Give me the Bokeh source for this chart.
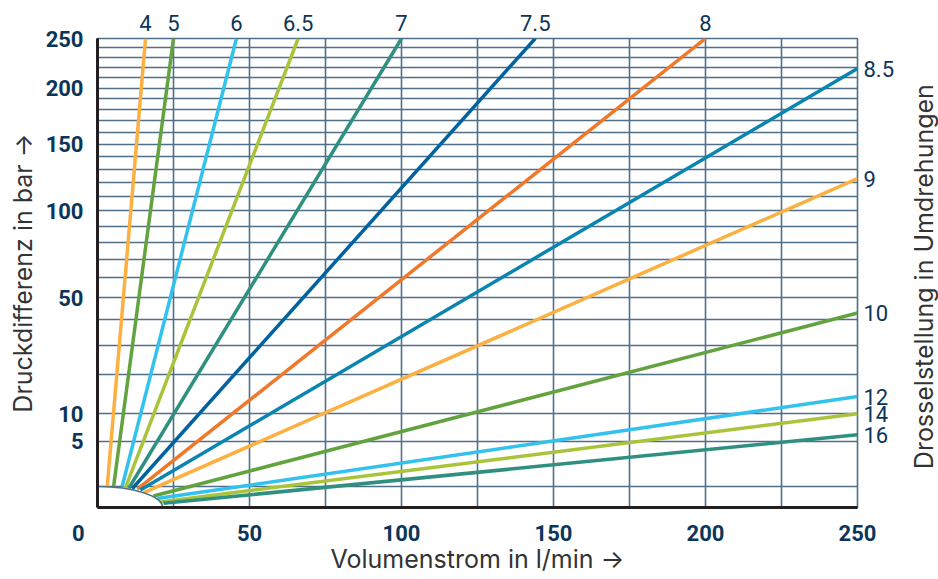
import math
from bokeh.plotting import figure
from bokeh.layouts import row
from bokeh.models import (Range1d, FixedTicker, CustomJSTickFormatter, LinearAxis)
from bokeh.core.properties import value
from bokeh.embed import file_html
from bokeh.resources import INLINE

# ---------------- data ----------------
settings = ["4", "5", "6", "6.5", "7", "7.5", "8", "8.5", "9", "10", "12", "14", "16"]
q_start = [3.2, 5.3, 8.1, 9.2, 10.3, 11.4, 13.1, 14.1, 15.2, 18.4, 19.6, 20.7, 21.7]
p_start = [0.5, 0.5, 0.5, 0.45, 0.42, 0.40, 0.38, 0.35, 0.25, 0.15, 0.09, 0.035, 0.02]
q_end = [15.8, 25, 45.7, 66, 100, 144, 200, 250, 250, 250, 250, 250, 250]
p_end = [250, 250, 250, 250, 250, 250, 250, 219, 123, 43, 14, 10, 6]
colors = ["#fbb040", "#63a33e", "#33c1ee", "#a9c43a", "#2f9080", "#0063a0", "#f0782a",
          "#0a85b0", "#fbb040", "#63a33e", "#33c1ee", "#a9c43a", "#2f9080"]

x_grid = [0, 25, 50, 75, 100, 125, 150, 175, 200, 225, 250]
x_labels = [0, 50, 100, 150, 200, 250]
y_grid = [0.5, 5, 10, 20, 30, 40, 50, 60, 70, 80, 90, 100, 110, 120, 130, 140, 150,
          160, 170, 180, 190, 200, 210, 220, 230, 240, 250]
y_labels = [5, 10, 50, 100, 150, 200, 250]
arc_q = 21.4   # throttle arc reaches the flow axis here
arc_p = 0.5    # and the pressure axis here

x_title = "Volumenstrom in l/min \u2192"
y_title = "Druckdifferenz in bar \u2192"
right_title = "Drosselstellung in Umdrehungen"

# ---------------- styles ----------------
GRID = "#4f6e87"
NAVY = "#0c355a"
TXT = "#333333"
NUM_FONT = "Roboto"
TITLE_FONT = "Inter"
TITLE_SIZE = "25px"

MAIN_W, SIDE_W, H = 900, 38, 579

p = figure(width=MAIN_W, height=H, output_backend="svg", toolbar_location=None,
           x_range=Range1d(0, 250), y_range=Range1d(0, math.sqrt(250)),
           min_border_left=97, min_border_right=MAIN_W - 857, min_border_top=38,
           min_border_bottom=72)
p.background_fill_color = "white"
p.border_fill_color = "white"
p.outline_line_color = GRID
p.outline_line_width = 1.6

p.xgrid.ticker = FixedTicker(ticks=x_grid)
p.ygrid.ticker = FixedTicker(ticks=[math.sqrt(v) for v in y_grid])
for g in (p.xgrid, p.ygrid):
    g.grid_line_color = GRID
    g.grid_line_width = 1.6

# bottom axis ("0" is shifted left, sitting at the corner as in the original)
p.xaxis.ticker = FixedTicker(ticks=x_labels)
p.xaxis.formatter = CustomJSTickFormatter(
    code="return tick == 0 ? '0\\u00a0\\u00a0\\u00a0\\u00a0\\u00a0\\u00a0\\u00a0' : tick.toString()")
p.yaxis.ticker = FixedTicker(ticks=[math.sqrt(v) for v in y_labels])
p.yaxis.formatter = CustomJSTickFormatter(code="return Math.round(tick*tick).toString()")
for ax in (p.xaxis, p.yaxis):
    ax.axis_line_color = "#231f20"
    ax.axis_line_width = 3
    ax.major_tick_line_color = None
    ax.minor_tick_line_color = None
    ax.major_tick_out = 0
    ax.minor_tick_out = 0
    ax.major_label_text_font = NUM_FONT
    ax.major_label_text_font_style = "bold"
    ax.major_label_text_font_size = "22px"
    ax.major_label_text_color = NAVY
    ax.axis_label_text_font = TITLE_FONT
    ax.axis_label_text_font_style = "normal"
    ax.axis_label_text_font_size = TITLE_SIZE
    ax.axis_label_text_color = TXT
p.yaxis.major_label_standoff = 14
p.xaxis.major_label_standoff = 13
p.yaxis.axis_label = y_title
p.yaxis.axis_label_standoff = 5
p.xaxis.axis_label = x_title
p.xaxis.axis_label_standoff = -5

# throttle lines
for qs, ps, qe, pe, c in zip(q_start, p_start, q_end, p_end, colors):
    p.line([qs, qe], [math.sqrt(ps), math.sqrt(pe)], line_color=c, line_width=3.5)

# arc near origin
p.ellipse(x=[0], y=[0], width=[2 * arc_q], height=[2 * math.sqrt(arc_p)],
          fill_color="white", line_color=GRID, line_width=1.6)

# line labels: top edge and right edge, as axes
top_idx = [i for i, v in enumerate(p_end) if v >= 250]
right_idx = [i for i, v in enumerate(p_end) if v < 250]
near_code = ("let b = 0; for (let i = 0; i < xs.length; i++) {"
             " if (Math.abs(xs[i] - tick) < Math.abs(xs[b] - tick)) b = i; }"
             " return labs[b];")
top_axis = LinearAxis(
    ticker=FixedTicker(ticks=[q_end[i] for i in top_idx]),
    formatter=CustomJSTickFormatter(args=dict(xs=[q_end[i] for i in top_idx],
                                              labs=[settings[i] for i in top_idx]),
                                    code=near_code))
right_axis = LinearAxis(
    ticker=FixedTicker(ticks=[math.sqrt(p_end[i]) for i in right_idx]),
    formatter=CustomJSTickFormatter(args=dict(xs=[math.sqrt(p_end[i]) for i in right_idx],
                                              labs=[settings[i] for i in right_idx]),
                                    code=near_code))
for ax in (top_axis, right_axis):
    ax.axis_line_color = None
    ax.major_tick_line_color = None
    ax.minor_tick_line_color = None
    ax.major_tick_out = 0
    ax.minor_tick_out = 0
    ax.major_label_text_font = NUM_FONT
    ax.major_label_text_font_size = "22px"
    ax.major_label_text_color = NAVY
top_axis.major_label_standoff = 8
right_axis.major_label_standoff = 6
p.add_layout(top_axis, "above")
p.add_layout(right_axis, "right")

# right-hand title, in a narrow strip next to the chart (reads bottom to top)
side = figure(width=SIDE_W, height=H, output_backend="svg", toolbar_location=None,
              x_range=Range1d(0, SIDE_W), y_range=Range1d(0, H),
              x_axis_location=None, y_axis_location=None, min_border=0)
side.grid.visible = False
side.outline_line_color = None
side.background_fill_color = "white"
side.border_fill_color = "white"
side.text(x=[23], y=[285], text=[right_title], angle=math.pi / 2,
          text_align="center", text_baseline="middle",
          text_font=value(TITLE_FONT), text_font_size=value(TITLE_SIZE), text_color=TXT)

layout = row(p, side, spacing=0)
open("out.html", "w").write(file_html(layout, INLINE))
